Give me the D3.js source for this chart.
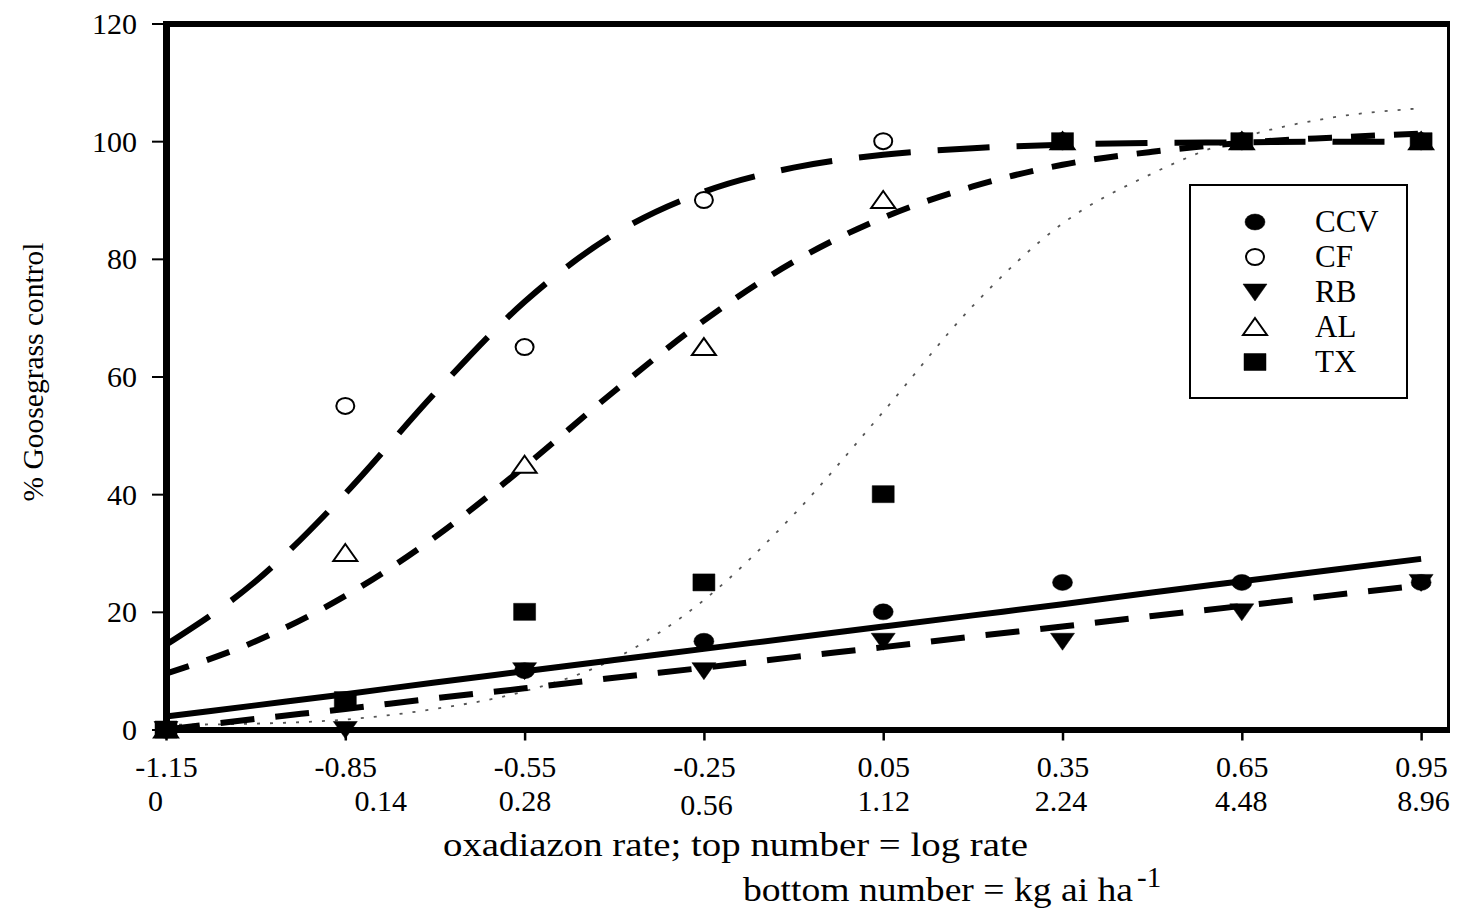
<!DOCTYPE html>
<html>
<head>
<meta charset="utf-8">
<script src="https://cdn.jsdelivr.net/npm/d3@7"></script>
<style>
  body { margin: 0; background: #fff; }
  text { font-family: "Liberation Serif", "Times New Roman", serif; fill: #000; }
</style>
</head>
<body>
<script>
// x categories: log rate (top row) and kg ai/ha (bottom row)
const logRates = [-1.15, -0.85, -0.55, -0.25, 0.05, 0.35, 0.65, 0.95];
const kgRates = ["0", "0.14", "0.28", "0.56", "1.12", "2.24", "4.48", "8.96"];
const yTicks = [0, 20, 40, 60, 80, 100, 120];

// observed % control per location
const ccv = [0, 5, 10, 15, 20, 25, 25, 25];
const cf = [0, 55, 65, 90, 100, 100, 100, 100];
const rb = [0, 0, 10, 10, 15, 15, 20, 25];
const al = [0, 30, 45, 65, 90, 100, 100, 100];
const tx = [0, 5, 20, 25, 40, 100, 100, 100];

// fitted curves, every 0.15 log units
const fitX = [-1.15, -1.0, -0.85, -0.7, -0.55, -0.4, -0.25, -0.1, 0.05, 0.2, 0.35, 0.5, 0.65, 0.8, 0.95];
const ccvFit = [2.2, 4.1, 6.0, 8.0, 9.9, 11.8, 13.7, 15.6, 17.5, 19.4, 21.3, 23.3, 25.2, 27.1, 29.0];
const rbFit = [0, 1.8, 3.5, 5.3, 7.0, 8.8, 10.5, 12.3, 14.0, 15.8, 17.5, 19.3, 21.0, 22.8, 24.5];
const cfFit = [14.4, 25.2, 40.1, 57.2, 72.7, 84.2, 91.4, 95.5, 97.7, 98.8, 99.4, 99.7, 99.8, 99.9, 99.9];
const alFit = [9.5, 15.0, 22.7, 32.7, 44.7, 57.5, 69.5, 79.5, 87.0, 92.3, 96.0, 98.2, 99.7, 100.6, 101.3];
const txFit = [0.8, 1.0, 1.7, 3.5, 6.5, 12, 22, 36.5, 54, 72, 86, 94.5, 100.6, 104, 105.6];

const W = 1460, H = 917;
const plotLeft = 166, plotRight = 1451, plotTop = 23.5, plotBottom = 729.5;

const svg = d3.select("body").append("svg")
  .attr("width", W)
  .attr("height", H);

const x = d3.scaleLinear().domain([-1.15, 1.0]).range([plotLeft, plotRight]);
const y = d3.scaleLinear().domain([0, 120]).range([plotBottom, plotTop]);

// marker shapes (slightly wider than tall, like the original)
const shapes = {
  circle: "M-10,0A10,8 0 1,0 10,0A10,8 0 1,0 -10,0Z",
  ocircle: "M-9,0A9,8 0 1,0 9,0A9,8 0 1,0 -9,0Z",
  tdown: "M-12,-8L12,-8L0,9Z",
  tup: "M0,-9L12,8L-12,8Z",
  square: "M-11,-8.5L11,-8.5L11,8.5L-11,8.5Z"
};

const series = [
  { name: "CCV", obs: ccv, shape: "circle", filled: true },
  { name: "CF", obs: cf, shape: "ocircle", filled: false },
  { name: "RB", obs: rb, shape: "tdown", filled: true },
  { name: "AL", obs: al, shape: "tup", filled: false },
  { name: "TX", obs: tx, shape: "square", filled: true }
];

const fits = [
  { vals: txFit, width: 1.8, dash: "3,10", color: "#555" },
  { vals: rbFit, width: 6, dash: "34,21", color: "#000" },
  { vals: alFit, width: 6, dash: "24,19", color: "#000" },
  { vals: cfFit, width: 6, dash: "52,27", color: "#000" },
  { vals: ccvFit, width: 6, dash: null, color: "#000" }
];

// fitted lines
const line = d3.line()
  .x((d, i) => x(fitX[i]))
  .y(d => y(d))
  .curve(d3.curveMonotoneX);

svg.append("g").selectAll("path")
  .data(fits)
  .join("path")
  .attr("d", d => line(d.vals))
  .attr("fill", "none")
  .attr("stroke", d => d.color)
  .attr("stroke-width", d => d.width)
  .attr("stroke-dasharray", d => d.dash);

// y axis
const yAxis = svg.append("g")
  .attr("transform", `translate(${plotLeft - 3},0)`)
  .call(d3.axisLeft(y).tickValues(yTicks).tickSize(11).tickPadding(15));
yAxis.select(".domain").remove();
yAxis.selectAll(".tick line").attr("stroke", "#000").attr("stroke-width", 2);
yAxis.selectAll(".tick text")
  .style("font-size", "30px")
  .attr("dy", "0.33em");

// x axis
const xAxis = svg.append("g")
  .attr("transform", `translate(0,${plotBottom + 3})`)
  .call(d3.axisBottom(x).tickValues(logRates).tickSize(8).tickFormat(d => d.toFixed(2)));
xAxis.select(".domain").remove();
xAxis.selectAll(".tick line").attr("stroke", "#000").attr("stroke-width", 2.5);
xAxis.selectAll(".tick text")
  .style("font-size", "30px")
  .attr("y", 44.5)
  .attr("dy", 0);

// second row of x labels (hand-placed in the original, so small nudges)
const kgNudge = [[-11, 0], [35, 0], [0, 0], [2, 4], [0, 0], [-2, 0], [-1, 0], [2, 0]];
xAxis.selectAll(".tick")
  .append("text")
  .attr("text-anchor", "middle")
  .style("font-size", "30px")
  .attr("x", (d, i) => kgNudge[i][0])
  .attr("y", (d, i) => 78.5 + kgNudge[i][1])
  .text((d, i) => kgRates[i]);

// plot frame
svg.append("line").attr("x1", plotLeft).attr("x2", 1450).attr("y1", 24).attr("y2", 24)
  .attr("stroke", "#000").attr("stroke-width", 6);
svg.append("line").attr("x1", 1448.5).attr("x2", 1448.5).attr("y1", 21).attr("y2", 733)
  .attr("stroke", "#000").attr("stroke-width", 3);
svg.append("line").attr("x1", plotLeft + 0.5).attr("x2", plotLeft + 0.5).attr("y1", 21).attr("y2", 733)
  .attr("stroke", "#000").attr("stroke-width", 7);
svg.append("line").attr("x1", plotLeft - 3).attr("x2", 1450).attr("y1", 730).attr("y2", 730)
  .attr("stroke", "#000").attr("stroke-width", 6);

// observed points
series.forEach(s => {
  svg.append("g").selectAll("path")
    .data(s.obs)
    .join("path")
    .attr("transform", (d, i) => `translate(${x(logRates[i])},${y(d)})`)
    .attr("d", shapes[s.shape])
    .attr("fill", s.filled ? "#000" : "#fff")
    .attr("stroke", "#000")
    .attr("stroke-width", s.filled ? 0.5 : 2);
});

// legend
const legend = svg.append("g");
legend.append("rect")
  .attr("x", 1190).attr("y", 185).attr("width", 217).attr("height", 213)
  .attr("fill", "#fff").attr("stroke", "#000").attr("stroke-width", 2);
const rowY = d3.scalePoint().domain(series.map(s => s.name)).range([222, 362]);
const items = legend.selectAll(".item")
  .data(series)
  .join("g")
  .attr("class", "item")
  .attr("transform", d => `translate(0,${rowY(d.name)})`);
items.append("path")
  .attr("transform", "translate(1255,0)")
  .attr("d", d => shapes[d.shape])
  .attr("fill", d => d.filled ? "#000" : "#fff")
  .attr("stroke", "#000")
  .attr("stroke-width", d => d.filled ? 0.5 : 2);
items.append("text")
  .attr("x", 1315)
  .attr("y", 10)
  .style("font-size", "31px")
  .text(d => d.name);

// axis titles
svg.append("text")
  .attr("transform", "translate(43,372) rotate(-90)")
  .attr("text-anchor", "middle")
  .style("font-size", "29.5px")
  .text("% Goosegrass control");

svg.append("text")
  .attr("x", 443)
  .attr("y", 856)
  .style("font-size", "33px")
  .attr("textLength", 585)
  .attr("lengthAdjust", "spacingAndGlyphs")
  .text("oxadiazon rate; top number = log rate");

svg.append("text")
  .attr("x", 743)
  .attr("y", 901)
  .style("font-size", "33px")
  .attr("textLength", 390)
  .attr("lengthAdjust", "spacingAndGlyphs")
  .text("bottom number = kg ai ha");
svg.append("text")
  .attr("x", 1137)
  .attr("y", 887)
  .style("font-size", "29px")
  .text("-1");
</script>
</body>
</html>
